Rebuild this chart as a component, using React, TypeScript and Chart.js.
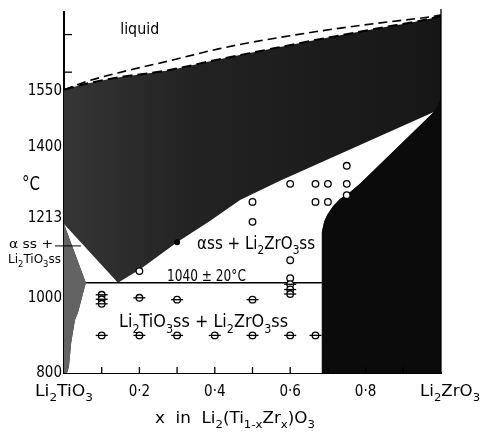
import React, { useEffect, useRef } from 'react';
import { Chart, registerables } from 'chart.js';

Chart.register(...registerables);

const NUM_FONT = "'DejaVu Sans Condensed', 'DejaVu Sans', sans-serif";
const TXT_FONT = "'DejaVu Sans Condensed', 'DejaVu Sans', sans-serif";

// Liquidus / solidus (composition x, temperature °C)
const boundaryX = [0, 0.05, 0.143, 0.27, 0.41, 0.49, 0.67, 0.83, 0.97, 1.0];
const liquidusT = [1553, 1572, 1598, 1628, 1662, 1678, 1708, 1730, 1747, 1752];
const solidusT = [1553, 1567, 1586, 1604, 1634, 1650, 1686, 1716, 1742, 1750];

// Two-phase (white) field outline
const twoPhaseX = [0, 0.058, 0.048, 0.037, 0.029, 0.019, 0.013, 0.008, 0.684, 0.684, 0.69, 0.698, 0.714, 0.732, 0.759, 0.785, 0.981, 0.573, 0.467, 0.387, 0.3, 0.202, 0.143];
const twoPhaseT = [1196, 1040, 1002, 960, 941, 880, 816, 800, 800, 1175, 1202, 1220, 1244, 1263, 1281, 1303, 1494, 1311, 1260, 1204, 1148, 1076, 1040];

// Li2TiO3 solid solution sliver
const tiSsX = [0, 0.058, 0.048, 0.037, 0.029, 0.019, 0.013, 0.008, 0];
const tiSsT = [1196, 1040, 1002, 960, 941, 880, 816, 800, 800];

// Li2ZrO3 solid solution field
const zrSsX = [0.684, 0.684, 0.69, 0.698, 0.714, 0.732, 0.759, 0.785, 0.981, 1.0, 1.0];
const zrSsT = [800, 1175, 1202, 1220, 1244, 1263, 1281, 1303, 1494, 1530, 800];

// Eutectoid line
const eutectoidX = [0.058, 0.684];
const eutectoidT = [1040, 1040];

// Experimental points
const openX = [0.2, 0.5, 0.5, 0.6, 0.667, 0.7, 0.75, 0.667, 0.7, 0.75, 0.75, 0.6, 0.6];
const openT = [1071, 1255, 1202, 1303, 1303, 1303, 1303, 1255, 1255, 1351, 1273, 1100, 1052];
const crossX = [0.1, 0.2, 0.3, 0.4, 0.5, 0.6, 0.667, 0.1, 0.1, 0.1, 0.2, 0.3, 0.5, 0.6, 0.6, 0.6];
const crossT = [900, 900, 900, 900, 900, 900, 900, 1008, 996, 984, 1000, 995, 995, 1036, 1022, 1010];
const solidX = [0.3];
const solidT = [1148];

// Axes
const yTickValues = [800, 1000, 1213, 1400, 1550];
const yTickLabels = ['800', '1000', '1213', '1400', '1550'];
const xTickValues = [0.2, 0.4, 0.6, 0.8];
const xTickLabels = ['0·2', '0·4', '0·6', '0·8'];
const xMinorTicks = [0.1, 0.2, 0.3, 0.4, 0.5, 0.6, 0.7, 0.8, 0.9];
const yMinorTicks = [1600, 1700];

const pts = (xs: number[], ys: number[]) => xs.map((x, i) => ({ x, y: ys[i] }));

type Seg = { t: string; sub: boolean };
function parseRich(s: string): Seg[] {
  const out: Seg[] = [];
  let buf = '';
  let i = 0;
  while (i < s.length) {
    const c = s[i];
    if (c === '{') {
      if (buf) out.push({ t: buf, sub: false });
      buf = '';
      const j = s.indexOf('}', i);
      out.push({ t: s.slice(i + 1, j), sub: true });
      i = j + 1;
      continue;
    }
    buf += c;
    i++;
  }
  if (buf) out.push({ t: buf, sub: false });
  return out;
}

function drawRich(
  ctx: CanvasRenderingContext2D,
  text: string,
  x: number,
  y: number,
  size: number,
  family: string,
  align: 'left' | 'center' | 'right',
  width?: number
) {
  const segs = parseRich(text);
  const subSize = size * 0.7;
  const ws: number[] = [];
  let w = 0;
  for (const s of segs) {
    ctx.font = `${s.sub ? subSize : size}px ${family}`;
    const m = ctx.measureText(s.t).width;
    ws.push(m);
    w += m;
  }
  const sx = width ? width / w : 1;
  const total = w * sx;
  const x0 = align === 'center' ? x - total / 2 : align === 'right' ? x - total : x;
  ctx.save();
  ctx.translate(x0, y);
  ctx.scale(sx, 1);
  ctx.fillStyle = '#000';
  ctx.textAlign = 'left';
  ctx.textBaseline = 'alphabetic';
  let cx = 0;
  segs.forEach((s, i) => {
    ctx.font = `${s.sub ? subSize : size}px ${family}`;
    ctx.fillText(s.t, cx, s.sub ? size * 0.32 : 0);
    cx += ws[i];
  });
  ctx.restore();
}

const annotations = {
  id: 'annotations',
  afterDraw(chart: any) {
    const ctx: CanvasRenderingContext2D = chart.ctx;
    const xs = chart.scales.x;
    const ys = chart.scales.y;
    const X = (v: number) => xs.getPixelForValue(v);
    const Y = (v: number) => ys.getPixelForValue(v);
    const area = chart.chartArea;
    ctx.save();
    ctx.strokeStyle = '#000';
    ctx.lineWidth = 1.3;
    // inward ticks
    for (const v of xMinorTicks) {
      ctx.beginPath();
      ctx.moveTo(X(v), area.bottom);
      ctx.lineTo(X(v), area.bottom - 6);
      ctx.stroke();
    }
    for (const v of yMinorTicks) {
      ctx.beginPath();
      ctx.moveTo(area.left, Y(v));
      ctx.lineTo(area.left + 8, Y(v));
      ctx.stroke();
    }
    // right border at x = 1
    ctx.beginPath();
    ctx.moveTo(X(1), area.top - 3);
    ctx.lineTo(X(1), area.bottom);
    ctx.stroke();
    // leader line for left label
    ctx.lineWidth = 1;
    ctx.beginPath();
    ctx.moveTo(X(-0.024), Y(1138));
    ctx.lineTo(X(0.045), Y(1138));
    ctx.stroke();
    ctx.restore();

    // field labels
    drawRich(ctx, 'liquid', X(0.149), Y(1701), 15, TXT_FONT, 'left', 39);
    drawRich(ctx, 'αss + Li{2}ZrO{3}ss', X(0.353), Y(1130), 17, TXT_FONT, 'left', 118);
    drawRich(ctx, '1040 ± 20°C', X(0.273), Y(1045), 16.5, NUM_FONT, 'left', 79);
    drawRich(ctx, 'Li{2}TiO{3}ss + Li{2}ZrO{3}ss', X(0.146), Y(922), 18, TXT_FONT, 'left', 169);
    // outside labels
    drawRich(ctx, '°C', 22, 190, 19, TXT_FONT, 'left', 18);
    drawRich(ctx, 'α ss +', 9, 248, 12, TXT_FONT, 'left', 44);
    drawRich(ctx, 'Li{2}TiO{3}ss', 8, 263, 13, TXT_FONT, 'left', 53);
    drawRich(ctx, 'Li{2}TiO{3}', X(0), 396, 16, TXT_FONT, 'center', 58);
    drawRich(ctx, 'Li{2}ZrO{3}', X(1.024), 396, 16, TXT_FONT, 'center', 60);
    drawRich(ctx, 'x  in  Li{2}(Ti{1-x}Zr{x})O{3}', 155, 423, 16, TXT_FONT, 'left', 160);
  },
};

// Shaded (single-phase + melting) region: slightly greyer on the Li2TiO3 side
const shadeFill = (c: any) => {
  const chart = c.chart;
  const area = chart.chartArea;
  if (!area) return '#1f1f1f';
  const g = chart.ctx.createLinearGradient(area.left, 0, area.right, 0);
  g.addColorStop(0, '#353535');
  g.addColorStop(0.35, '#222222');
  g.addColorStop(1, '#161616');
  return g;
};

export default function App() {
  const ref = useRef<HTMLCanvasElement>(null);
  useEffect(() => {
    document.body.style.margin = '0';
    const canvas = ref.current!;
    const chart = new Chart(canvas, {
      type: 'scatter',
      data: {
        datasets: [
          {
            label: 'liquidus',
            data: pts(boundaryX, liquidusT),
            showLine: true,
            borderColor: '#000',
            borderWidth: 1.6,
            borderDash: [9, 5],
            pointRadius: 0,
            fill: false,
            cubicInterpolationMode: 'monotone',
            order: 6,
          } as any,
          {
            label: 'solidus',
            data: pts(boundaryX, solidusT),
            showLine: true,
            borderColor: '#000',
            borderWidth: 2,
            borderDash: [10, 5],
            pointRadius: 0,
            fill: 'start',
            backgroundColor: shadeFill,
            cubicInterpolationMode: 'monotone',
            order: 20,
          } as any,
          {
            label: 'two-phase',
            data: pts(twoPhaseX, twoPhaseT),
            showLine: true,
            borderWidth: 0,
            pointRadius: 0,
            fill: 'shape',
            backgroundColor: '#fff',
            order: 19,
          } as any,
          {
            label: 'Li2ZrO3ss',
            data: pts(zrSsX, zrSsT),
            showLine: true,
            borderWidth: 0,
            pointRadius: 0,
            fill: 'shape',
            backgroundColor: '#0b0b0b',
            order: 18,
          } as any,
          {
            label: 'Li2TiO3ss',
            data: pts(tiSsX, tiSsT),
            showLine: true,
            borderWidth: 0,
            pointRadius: 0,
            fill: 'shape',
            backgroundColor: '#636363',
            order: 17,
          } as any,
          {
            label: 'eutectoid',
            data: pts(eutectoidX, eutectoidT),
            showLine: true,
            borderColor: '#000',
            borderWidth: 1.6,
            pointRadius: 0,
            fill: false,
            order: 5,
          } as any,
          {
            label: 'open',
            data: pts(openX, openT),
            pointRadius: 3.3,
            pointBorderWidth: 1.3,
            pointBorderColor: '#000',
            pointBackgroundColor: '#fff',
            order: 3,
          } as any,
          {
            label: 'cross-circle',
            data: pts(crossX, crossT),
            pointRadius: 3.3,
            pointBorderWidth: 1.3,
            pointBorderColor: '#000',
            pointBackgroundColor: '#fff',
            order: 2,
          } as any,
          {
            label: 'cross-bar',
            data: pts(crossX, crossT),
            pointStyle: 'line',
            pointRadius: 6,
            pointBorderWidth: 1.3,
            pointBorderColor: '#000',
            order: 1,
          } as any,
          {
            label: 'solid',
            data: pts(solidX, solidT),
            pointRadius: 3,
            pointBorderWidth: 0,
            pointBackgroundColor: '#000',
            order: 1,
          } as any,
        ],
      },
      options: {
        animation: false,
        responsive: false,
        devicePixelRatio: 1,
        layout: { padding: { top: 12, right: 41, left: 0, bottom: 0 } },
        plugins: { legend: { display: false }, tooltip: { enabled: false } },
        events: [],
        scales: {
          x: {
            type: 'linear',
            min: 0,
            max: 1,
            position: 'bottom',
            z: 1,
            grid: { display: true, drawOnChartArea: false, drawTicks: false },
            border: { display: true, color: '#000', width: 2 },
            afterBuildTicks: (s: any) => {
              s.ticks = xTickValues.map((v) => ({ value: v }));
            },
            afterFit: (s: any) => {
              s.height = 59;
            },
            ticks: {
              callback: (_v: any, i: number) => xTickLabels[i],
              font: { family: NUM_FONT, size: 15 },
              color: '#000',
              padding: 10,
              maxRotation: 0,
              autoSkip: false,
            },
          },
          y: {
            type: 'linear',
            min: 800,
            max: 1760,
            z: 1,
            grid: { display: true, drawOnChartArea: false, drawTicks: false },
            border: { display: true, color: '#000', width: 2 },
            afterBuildTicks: (s: any) => {
              s.ticks = yTickValues.map((v) => ({ value: v }));
            },
            afterFit: (s: any) => {
              s.width = 64;
            },
            ticks: {
              callback: (_v: any, i: number) => yTickLabels[i],
              font: { family: NUM_FONT, size: 15 },
              color: '#000',
              padding: 2,
              autoSkip: false,
            },
          },
        },
      } as any,
      plugins: [annotations],
    });
    return () => chart.destroy();
  }, []);
  return (
    <div style={{ width: 482, height: 432 }}>
      <canvas ref={ref} width={482} height={432} />
    </div>
  );
}
